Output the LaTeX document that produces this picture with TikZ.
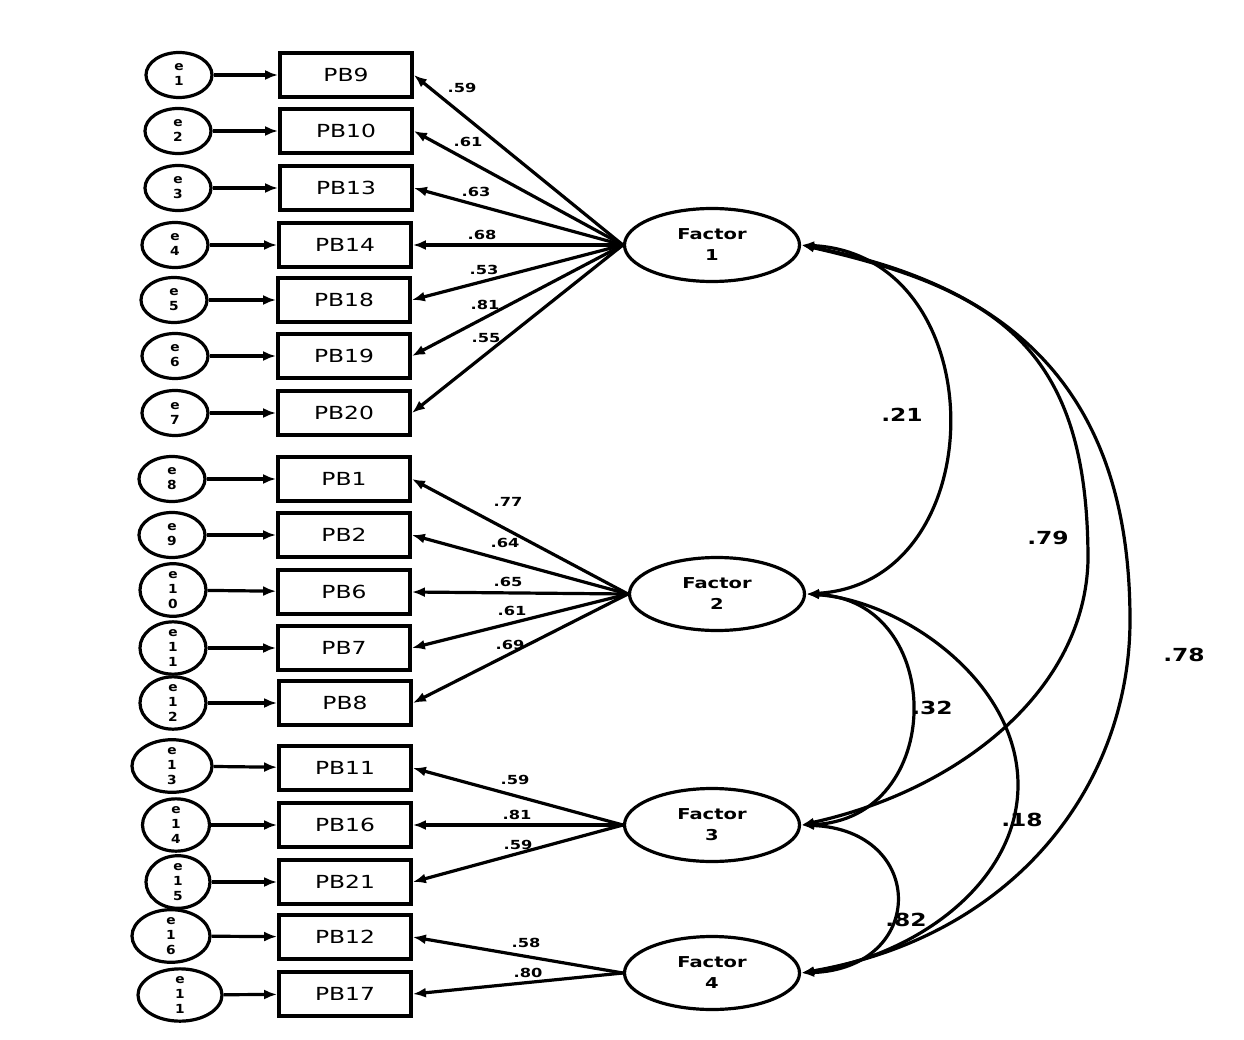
\documentclass[tikz,border=0pt]{standalone}
\usepackage{fontspec}
\setmainfont{DejaVu Sans}
\newfontfamily\pbf[FakeStretch=1.3]{DejaVu Sans}
\newfontfamily\bbf[FakeStretch=1.3]{DejaVu Sans Bold}
\newfontfamily\ebf[FakeStretch=1.1]{DejaVu Sans Bold}
\usetikzlibrary{shapes.geometric,arrows.meta}
\begin{document}
\begin{tikzpicture}[x=1pt,y=-1pt,
  obs/.style={draw, line width=3.8pt, minimum width=132pt, minimum height=44pt, inner sep=0pt, font=\pbf\fontsize{18}{18}\selectfont},
  err/.style={draw, ellipse, line width=3.2pt, minimum width=66pt, minimum height=45pt, inner sep=0pt, align=center, font=\ebf\fontsize{12.5}{15}\selectfont},
  lat/.style={draw, ellipse, line width=3.2pt, minimum width=175pt, minimum height=73pt, inner sep=0pt, align=center, font=\bbf\fontsize{15}{21}\selectfont},
  arr/.style={line width=3.2pt, -{Latex[length=13pt,width=10pt]}},
  cov/.style={line width=3.2pt, {Latex[length=13pt,width=9pt]}-{Latex[length=13pt,width=9pt]}},
  ld/.style={font=\bbf\fontsize{12.5}{12.5}\selectfont, inner sep=0pt},
  cl/.style={font=\bbf\fontsize{18}{18}\selectfont, inner sep=0pt}]
\useasboundingbox (0,0) rectangle (1244,1040);

% observed variables
\node[obs] (pb9)  at (346,75)  {PB9};
\node[obs] (pb10) at (346,131) {PB10};
\node[obs] (pb13) at (346,188) {PB13};
\node[obs] (pb14) at (345,245) {PB14};
\node[obs] (pb18) at (344,300) {PB18};
\node[obs] (pb19) at (344,356) {PB19};
\node[obs] (pb20) at (344,413) {PB20};
\node[obs] (pb1)  at (344,479) {PB1};
\node[obs] (pb2)  at (344,535) {PB2};
\node[obs] (pb6)  at (344,592) {PB6};
\node[obs] (pb7)  at (344,648) {PB7};
\node[obs] (pb8)  at (345,703) {PB8};
\node[obs] (pb11) at (345,768) {PB11};
\node[obs] (pb16) at (345,825) {PB16};
\node[obs] (pb21) at (345,882) {PB21};
\node[obs] (pb12) at (345,937) {PB12};
\node[obs] (pb17) at (345,994) {PB17};

% error terms
\node[err] (e1)  at (179,75)  {e\\1};
\node[err] (e2)  at (178,131) {e\\2};
\node[err] (e3)  at (178,188) {e\\3};
\node[err] (e4)  at (175,245) {e\\4};
\node[err] (e5)  at (174,300) {e\\5};
\node[err] (e6)  at (175,356) {e\\6};
\node[err] (e7)  at (175,413) {e\\7};
\node[err] (e8)  at (172,479) {e\\8};
\node[err] (e9)  at (172,535) {e\\9};
\node[err, minimum height=47pt] (e10) at (173,590) {e\\1\\0};
\node[err, minimum height=47pt] (e11) at (173,648) {e\\1\\1};
\node[err, minimum height=47pt] (e12) at (173,703) {e\\1\\2};
\node[err, minimum width=80pt, minimum height=48pt] (e13) at (172,766) {e\\1\\3};
\node[err, minimum width=67pt, minimum height=48pt] (e14) at (176,825) {e\\1\\4};
\node[err, minimum width=64pt, minimum height=47pt] (e15) at (178,882) {e\\1\\5};
\node[err, minimum width=78pt, minimum height=48pt] (e16) at (171,936) {e\\1\\6};
\node[err, minimum width=84pt, minimum height=50pt] (e17) at (180,995) {e\\1\\1};

\foreach \e/\p in {e1/pb9,e2/pb10,e3/pb13,e4/pb14,e5/pb18,e6/pb19,e7/pb20,e8/pb1,e9/pb2,e10/pb6,e11/pb7,e12/pb8,e13/pb11,e14/pb16,e15/pb21,e16/pb12,e17/pb17}
  \draw[arr] (\e) -- (\p);

% latent factors
\node[lat] (F1) at (712,245) {Factor\\1};
\node[lat] (F2) at (717,594) {Factor\\2};
\node[lat] (F3) at (712,825) {Factor\\3};
\node[lat] (F4) at (712,973) {Factor\\4};

% loadings
\foreach \p in {pb9,pb10,pb13,pb14,pb18,pb19,pb20}
  \draw[arr] (F1.west) -- (\p.east);
\foreach \p in {pb1,pb2,pb6,pb7,pb8}
  \draw[arr] (F2.west) -- (\p.east);
\foreach \p in {pb11,pb16,pb21}
  \draw[arr] (F3.west) -- (\p.east);
\foreach \p in {pb12,pb17}
  \draw[arr] (F4.west) -- (\p.east);

% loading labels
\node[ld] (l1) at (462,88)  {.59};
\node[ld] (l2) at (468,142) {.61};
\node[ld] (l3) at (476,192) {.63};
\node[ld] (l4) at (482,235) {.68};
\node[ld] (l5) at (484,270) {.53};
\node[ld] (l6) at (485,305) {.81};
\node[ld] (l7) at (486,338) {.55};
\node[ld] (l8) at (508,502) {.77};
\node[ld] (l9) at (505,543) {.64};
\node[ld] (l10) at (508,582) {.65};
\node[ld] (l11) at (512,611) {.61};
\node[ld] (l12) at (510,645) {.69};
\node[ld] (l13) at (515,780) {.59};
\node[ld] (l14) at (517,815) {.81};
\node[ld] (l15) at (518,845) {.59};
\node[ld] (l16) at (526,943) {.58};
\node[ld] (l17) at (528,973) {.80};

% covariances
\coordinate (p13) at (1088,560);
\coordinate (p14) at (1130,620);
\coordinate (p24) at (1018,785);
\draw[cov] (F1.east) .. controls (996,255) and (996,583) .. (F2.east);
\draw[cov] (F1.east) .. controls (1000,290) and (1088,350) .. (p13)
                     .. controls (1085,690) and (960,790) .. (F3.east);
\draw[cov] (F1.east) .. controls (1010,285) and (1130,390) .. (p14)
                     .. controls (1130,780) and (1020,935) .. (F4.east);
\draw[cov] (F2.east) .. controls (947,600) and (947,820) .. (F3.east);
\draw[cov] (F2.east) .. controls (900,600) and (1018,680) .. (p24)
                     .. controls (1018,880) and (920,955) .. (F4.east);
\draw[cov] (F3.east) .. controls (927,830) and (927,968) .. (F4.east);

% covariance labels
\node[cl] (c12) at (902,415) {.21};
\node[cl] (c13) at (1048,538) {.79};
\node[cl] (c14) at (1184,655) {.78};
\node[cl] (c23) at (932,708) {.32};
\node[cl] (c24) at (1022,820) {.18};
\node[cl] (c34) at (906,920) {.82};
\end{tikzpicture}
\end{document}
